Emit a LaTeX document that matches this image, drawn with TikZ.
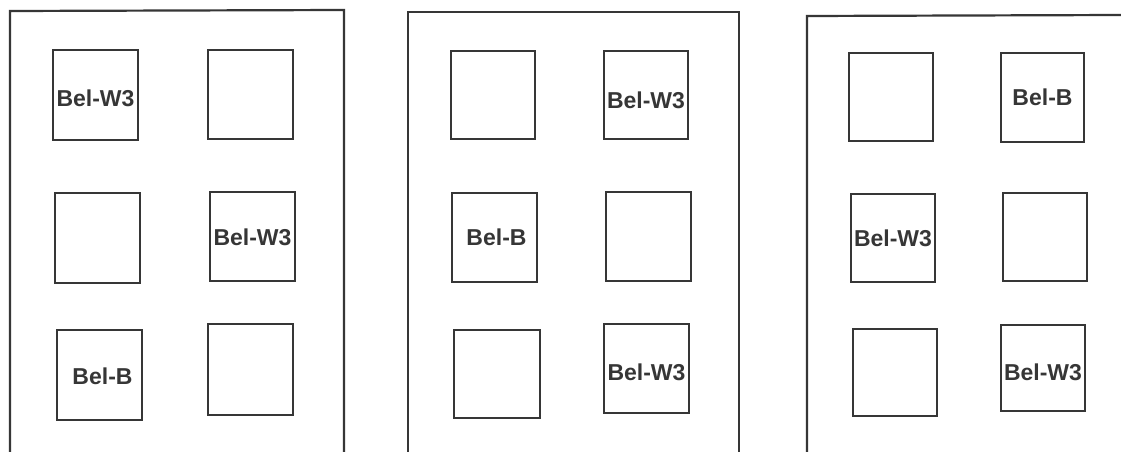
\documentclass[tikz,border=0pt]{standalone}
\usepackage{fontspec}
\setmainfont{Liberation Sans}
\definecolor{ink}{HTML}{363636}
\newcommand{\lowtxt}[2]{\raisebox{-#1}[\height][\depth]{#2}}
\begin{document}
\begin{tikzpicture}[x=1pt,y=-1pt,
  frame/.style={draw=ink,line width=2.2pt},
  cell/.style={draw=ink,line width=2pt,rectangle,inner sep=0pt,
    text=ink,font=\fontsize{23}{27}\selectfont\bfseries}]
\useasboundingbox[fill=white] (0,0) rectangle (1121,452);
% outer frames
\coordinate (f1a) at (10,452); \coordinate (f1b) at (10,11);
\coordinate (f1c) at (344,10); \coordinate (f1d) at (344,452);
\draw[frame] (f1a) -- (f1b) -- (f1c) -- (f1d);
\coordinate (f2a) at (408,452); \coordinate (f2b) at (408,12);
\coordinate (f2c) at (739,12); \coordinate (f2d) at (739,452);
\draw[frame] (f2a) -- (f2b) -- (f2c) -- (f2d);
\coordinate (f3a) at (807,452); \coordinate (f3b) at (807,16);
\coordinate (f3c) at (1121,15);
\draw[frame] (f3a) -- (f3b) -- (f3c);
% panel 1
\node[cell,minimum width=85,minimum height=90] (p1a) at (95.5,95) {\lowtxt{3pt}{Bel-W3}};
\node[cell,minimum width=85,minimum height=89] (p1b) at (250.5,94.5) {};
\node[cell,minimum width=85,minimum height=90] (p1c) at (97.5,238) {};
\node[cell,minimum width=85,minimum height=89] (p1d) at (252.5,236.5) {\lowtxt{1pt}{Bel-W3}};
\node[cell,minimum width=85,minimum height=90] (p1e) at (99.5,375) {\hspace{6pt}\lowtxt{1pt}{Bel-B}};
\node[cell,minimum width=85,minimum height=91] (p1f) at (250.5,369.5) {};
% panel 2
\node[cell,minimum width=84,minimum height=88] (p2a) at (493,95) {};
\node[cell,minimum width=84,minimum height=88] (p2b) at (646,95) {\lowtxt{5pt}{Bel-W3}};
\node[cell,minimum width=85,minimum height=89] (p2c) at (494.5,237.5) {\hspace{4pt}Bel-B};
\node[cell,minimum width=85,minimum height=89] (p2d) at (648.5,236.5) {};
\node[cell,minimum width=86,minimum height=88] (p2e) at (497,374) {};
\node[cell,minimum width=85,minimum height=89] (p2f) at (646.5,368.5) {\lowtxt{4pt}{Bel-W3}};
% panel 3
\node[cell,minimum width=84,minimum height=88] (p3a) at (891,97) {};
\node[cell,minimum width=83,minimum height=89] (p3b) at (1042.5,97.5) {Bel-B};
\node[cell,minimum width=84,minimum height=88] (p3c) at (893,238) {Bel-W3};
\node[cell,minimum width=84,minimum height=88] (p3d) at (1045,237) {};
\node[cell,minimum width=84,minimum height=87] (p3e) at (895,372.5) {};
\node[cell,minimum width=84,minimum height=86] (p3f) at (1043,368) {\lowtxt{4pt}{Bel-W3}};
\end{tikzpicture}
\end{document}
